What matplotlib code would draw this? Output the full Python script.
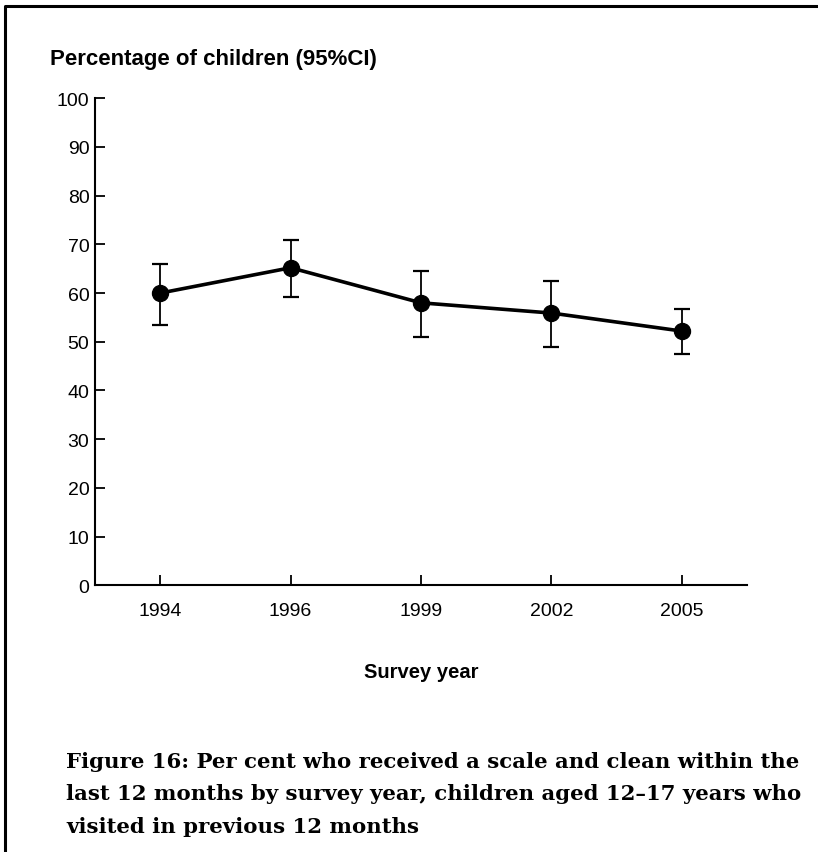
import matplotlib
matplotlib.use("Agg")
import matplotlib.pyplot as plt
from matplotlib.lines import Line2D

years = ["1994", "1996", "1999", "2002", "2005"]
percent = [60.0, 65.2, 58.0, 55.9, 52.2]
ci_low = [53.5, 59.2, 51.0, 49.0, 47.5]
ci_high = [66.0, 70.8, 64.5, 62.4, 56.7]

plt.rcParams["font.family"] = ["Liberation Sans", "DejaVu Sans"]

fig = plt.figure(figsize=(8.18, 8.53), dpi=100)
ax = fig.add_axes([0.1161, 0.3127, 0.7971, 0.5709])

x = list(range(len(years)))
err = [[p - lo for p, lo in zip(percent, ci_low)],
       [hi - p for p, hi in zip(percent, ci_high)]]
ax.errorbar(x, percent, yerr=err, fmt="none", ecolor="black",
            elinewidth=1.3, capsize=6, capthick=1.6, zorder=2)
ax.plot(x, percent, color="black", linewidth=2.6, marker="o",
        markersize=11.5, zorder=3)

ax.set_xlim(-0.5, 4.5)
ax.set_ylim(0, 100)
ax.set_xticks(x)
ax.set_xticklabels(years)
ax.set_yticks(range(0, 101, 10))
for side in ("top", "right"):
    ax.spines[side].set_visible(False)
for side in ("left", "bottom"):
    ax.spines[side].set_linewidth(1.5)
ax.tick_params(axis="y", direction="in", length=7.5, width=1.3,
               labelsize=14, pad=4)
ax.tick_params(axis="x", direction="in", length=7.5, width=1.3,
               labelsize=14, pad=12)
ax.set_xlabel("Survey year", fontsize=14.5, fontweight="bold", labelpad=31)

fig.text(50 / 818, 1 - 60 / 853, "Percentage of children (95%CI)",
         fontsize=16, fontweight="bold", va="center", ha="left")

caption = ("Figure 16: Per cent who received a scale and clean within the\n"
           "last 12 months by survey year, children aged 12\u201317 years who\n"
           "visited in previous 12 months")
fig.text(66 / 818, 1 - 752 / 853, caption, family=["DejaVu Serif"],
         fontsize=15.3, fontweight="bold", va="top", ha="left",
         linespacing=1.78)

# page frame (top and left edges)
fig.add_artist(Line2D([5 / 818, 5 / 818, 1.0], [0.0, 1 - 7 / 853, 1 - 7 / 853],
                      transform=fig.transFigure, color="black", linewidth=2.2))

fig.savefig("out.png", dpi=100, facecolor="white")
